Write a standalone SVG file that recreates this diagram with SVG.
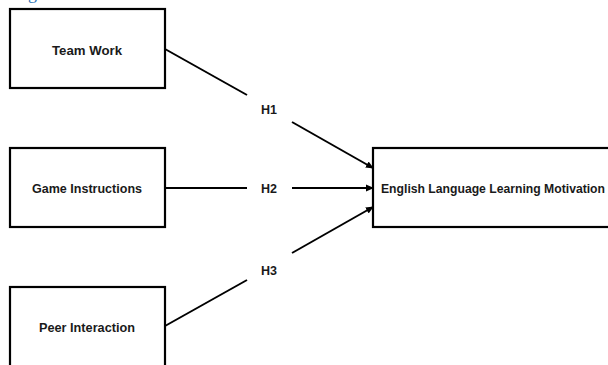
<svg xmlns="http://www.w3.org/2000/svg" width="608" height="365" viewBox="0 0 608 365">
<defs>
<style>
.box{fill:#fff;stroke:#000;stroke-width:2.2}
.lbl{font-family:"Liberation Sans",Arial,sans-serif;font-weight:bold;font-size:12.5px;fill:#1a1a1a;text-anchor:middle}
.ln{stroke:#000;stroke-width:2;fill:none}
.cap{font-family:"Liberation Serif","Times New Roman",serif;font-size:18px;fill:#2e74b5}
</style>
<marker id="ah" markerWidth="8" markerHeight="8" refX="7" refY="4" orient="auto" markerUnits="userSpaceOnUse">
<path d="M0,0.5 L8,4 L0,7.5 Z" fill="#000"/>
</marker>
</defs>
<rect width="608" height="365" fill="#fff"/>
<text class="cap" x="28" y="-1">g</text>
<g id="team-work">
<rect class="box" x="10" y="9" width="155" height="79"/>
<text class="lbl" x="87" y="54.5" textLength="70" lengthAdjust="spacingAndGlyphs">Team Work</text>
</g>
<g id="game-instructions">
<rect class="box" x="10" y="148" width="155" height="79"/>
<text class="lbl" x="87" y="193" textLength="110" lengthAdjust="spacingAndGlyphs">Game Instructions</text>
</g>
<g id="peer-interaction">
<rect class="box" x="10" y="287" width="155" height="100"/>
<text class="lbl" x="87" y="331.5" textLength="96" lengthAdjust="spacingAndGlyphs">Peer Interaction</text>
</g>
<g id="motivation">
<rect class="box" x="373" y="148" width="250" height="79"/>
<text class="lbl" x="493" y="193" textLength="224" lengthAdjust="spacingAndGlyphs">English Language Learning Motivation</text>
</g>
<g id="connectors">
<line class="ln" x1="165" y1="49" x2="247" y2="95"/>
<line class="ln" x1="292" y1="122" x2="373" y2="168" marker-end="url(#ah)"/>
<line class="ln" x1="165" y1="188" x2="247" y2="188"/>
<line class="ln" x1="292" y1="188" x2="373" y2="188" marker-end="url(#ah)"/>
<line class="ln" x1="165" y1="326" x2="247" y2="280"/>
<line class="ln" x1="292" y1="253" x2="373" y2="207" marker-end="url(#ah)"/>
<text class="lbl" x="269" y="113.5" textLength="16" lengthAdjust="spacingAndGlyphs">H1</text>
<text class="lbl" x="269" y="192.5" textLength="16" lengthAdjust="spacingAndGlyphs">H2</text>
<text class="lbl" x="269" y="274.5" textLength="16" lengthAdjust="spacingAndGlyphs">H3</text>
</g>
</svg>
